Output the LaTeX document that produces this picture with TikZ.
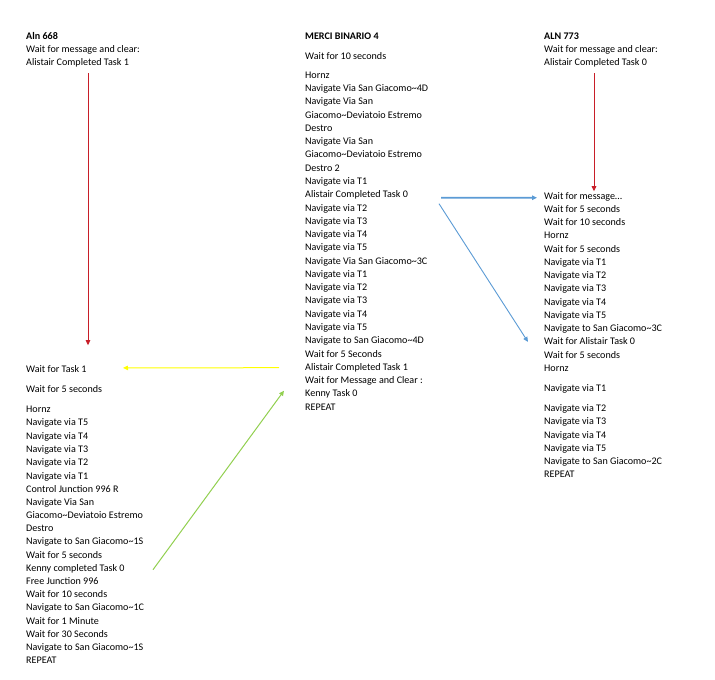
\documentclass[tikz,border=0pt]{standalone}
\usepackage{fontspec}
\setmainfont{Carlito}
\usetikzlibrary{arrows.meta}
\newcommand{\tld}{\textasciitilde}
\begin{document}
\begin{tikzpicture}[x=1pt,y=-1pt,
  txt/.style={anchor=mid west,inner sep=0pt,font=\fontsize{10.1}{12}\selectfont},
  hdr/.style={txt,font=\fontsize{10.1}{12}\selectfont\bfseries},
  tip/.style={-{Triangle[length=5pt,width=4.5pt]}},
  redarrow/.style={tip,draw={rgb,255:red,200;green,30;blue,40},line width=0.9pt},
  bluearrow/.style={tip,draw={rgb,255:red,91;green,155;blue,213},line width=0.9pt},
  bluethick/.style={bluearrow,line width=1.8pt},
  yelarrow/.style={tip,draw={rgb,255:red,255;green,255;blue,0},line width=1pt},
  grnarrow/.style={tip,draw={rgb,255:red,146;green,208;blue,80},line width=1pt}]
\useasboundingbox[fill=white] (0,0) rectangle (715,680);
\newcommand{\myline}[5][txt]{\node[#1] (#2) at (#3,#4) {#5};}
% ---------------- left column
\myline[hdr]{l0}{26}{37}{Aln 668}
\myline{l1}{26}{50}{Wait for message and clear:}
\myline{l2}{26}{63}{Alistair Completed Task 1}
\myline{l3}{26}{370}{Wait for Task 1}
\myline{l4}{26}{390}{Wait for 5 seconds}
\myline{l5}{26}{410}{Hornz}
\myline{l6}{26}{423}{Navigate via T5}
\myline{l7}{26}{437}{Navigate via T4}
\myline{l8}{26}{450}{Navigate via T3}
\myline{l9}{26}{463}{Navigate via T2}
\myline{l10}{26}{477}{Navigate via T1}
\myline{l11}{26}{490}{Control Junction 996 R}
\myline{l12}{26}{503}{Navigate Via San}
\myline{l13}{26}{516}{Giacomo\tld Deviatoio Estremo}
\myline{l14}{26}{529}{Destro}
\myline{l15}{26}{542}{Navigate to San Giacomo\tld 1S}
\myline{l16}{26}{556}{Wait for 5 seconds}
\myline{l17}{26}{569}{Kenny completed Task 0}
\myline{l18}{26}{582}{Free Junction 996}
\myline{l19}{26}{595}{Wait for 10 seconds}
\myline{l20}{26}{608}{Navigate to San Giacomo\tld 1C}
\myline{l21}{26}{622}{Wait for 1 Minute}
\myline{l22}{26}{635}{Wait for 30 Seconds}
\myline{l23}{26}{648}{Navigate to San Giacomo\tld 1S}
\myline{l24}{26}{661}{REPEAT}
% ---------------- middle column
\myline[hdr]{m0}{305}{37}{MERCI BINARIO 4}
\myline{m1}{305}{57}{Wait for 10 seconds}
\myline{m2}{305}{76}{Hornz}
\myline{m3}{305}{89}{Navigate Via San Giacomo\tld 4D}
\myline{m4}{305}{102}{Navigate Via San}
\myline{m5}{305}{116}{Giacomo\tld Deviatoio Estremo}
\myline{m6}{305}{129}{Destro}
\myline{m7}{305}{142}{Navigate Via San}
\myline{m8}{305}{155}{Giacomo\tld Deviatoio Estremo}
\myline{m9}{305}{169}{Destro 2}
\myline{m10}{305}{182}{Navigate via T1}
\myline{m11}{305}{195}{Alistair Completed Task 0}
\myline{m12}{305}{209}{Navigate via T2}
\myline{m13}{305}{222}{Navigate via T3}
\myline{m14}{305}{235}{Navigate via T4}
\myline{m15}{305}{248}{Navigate via T5}
\myline{m16}{305}{262}{Navigate Via San Giacomo\tld 3C}
\myline{m17}{305}{275}{Navigate via T1}
\myline{m18}{305}{288}{Navigate via T2}
\myline{m19}{305}{301}{Navigate via T3}
\myline{m20}{305}{315}{Navigate via T4}
\myline{m21}{305}{328}{Navigate via T5}
\myline{m22}{305}{341}{Navigate to San Giacomo\tld 4D}
\myline{m23}{305}{355}{Wait for 5 Seconds}
\myline{m24}{305}{368}{Alistair Completed Task 1}
\myline{m25}{305}{381}{Wait for Message and Clear :}
\myline{m26}{305}{394}{Kenny Task 0}
\myline{m27}{305}{408}{REPEAT}
% ---------------- right column
\myline[hdr]{r0}{544}{37}{ALN 773}
\myline{r1}{544}{50}{Wait for message and clear:}
\myline{r2}{544}{63}{Alistair Completed Task 0}
\myline{r3}{544}{197}{Wait for message\dots}
\myline{r4}{544}{210}{Wait for 5 seconds}
\myline{r5}{544}{223}{Wait for 10 seconds}
\myline{r6}{544}{236}{Hornz}
\myline{r7}{544}{250}{Wait for 5 seconds}
\myline{r8}{544}{263}{Navigate via T1}
\myline{r9}{544}{276}{Navigate via T2}
\myline{r10}{544}{289}{Navigate via T3}
\myline{r11}{544}{303}{Navigate via T4}
\myline{r12}{544}{316}{Navigate via T5}
\myline{r13}{544}{329}{Navigate to San Giacomo\tld 3C}
\myline{r14}{544}{342}{Wait for Alistair Task 0}
\myline{r15}{544}{356}{Wait for 5 seconds}
\myline{r16}{544}{369}{Hornz}
\myline{r17}{544}{389}{Navigate via T1}
\myline{r18}{544}{409}{Navigate via T2}
\myline{r19}{544}{422}{Navigate via T3}
\myline{r20}{544}{436}{Navigate via T4}
\myline{r21}{544}{449}{Navigate via T5}
\myline{r22}{544}{462}{Navigate to San Giacomo\tld 2C}
\myline{r23}{544}{475}{REPEAT}
% ---------------- connectors
\coordinate (lx) at (88,0);
\coordinate (rx) at (594,0);
\draw[redarrow] ([yshift=-6pt]l2.south -| lx) -- ([yshift=20pt]l3.north -| lx);
\draw[redarrow] ([yshift=-6pt]r2.south -| rx) -- ([yshift=1pt]r3.north -| rx);
\draw[bluethick] ([xshift=136pt,yshift=-3pt]m11.west) -- ([xshift=-7pt,yshift=-1pt]r3.west);
\draw[bluearrow] ([xshift=134pt,yshift=-9pt]m11.west) -- ([xshift=-16pt,yshift=-1pt]r14.west);
\draw[yelarrow] ([xshift=-26pt]m24.west) -- ([xshift=97pt,yshift=1pt]l3.west);
\draw[grnarrow] ([xshift=127pt,yshift=-1pt]l17.west) -- ([xshift=-21pt,yshift=3pt]m26.west);
\end{tikzpicture}
\end{document}
